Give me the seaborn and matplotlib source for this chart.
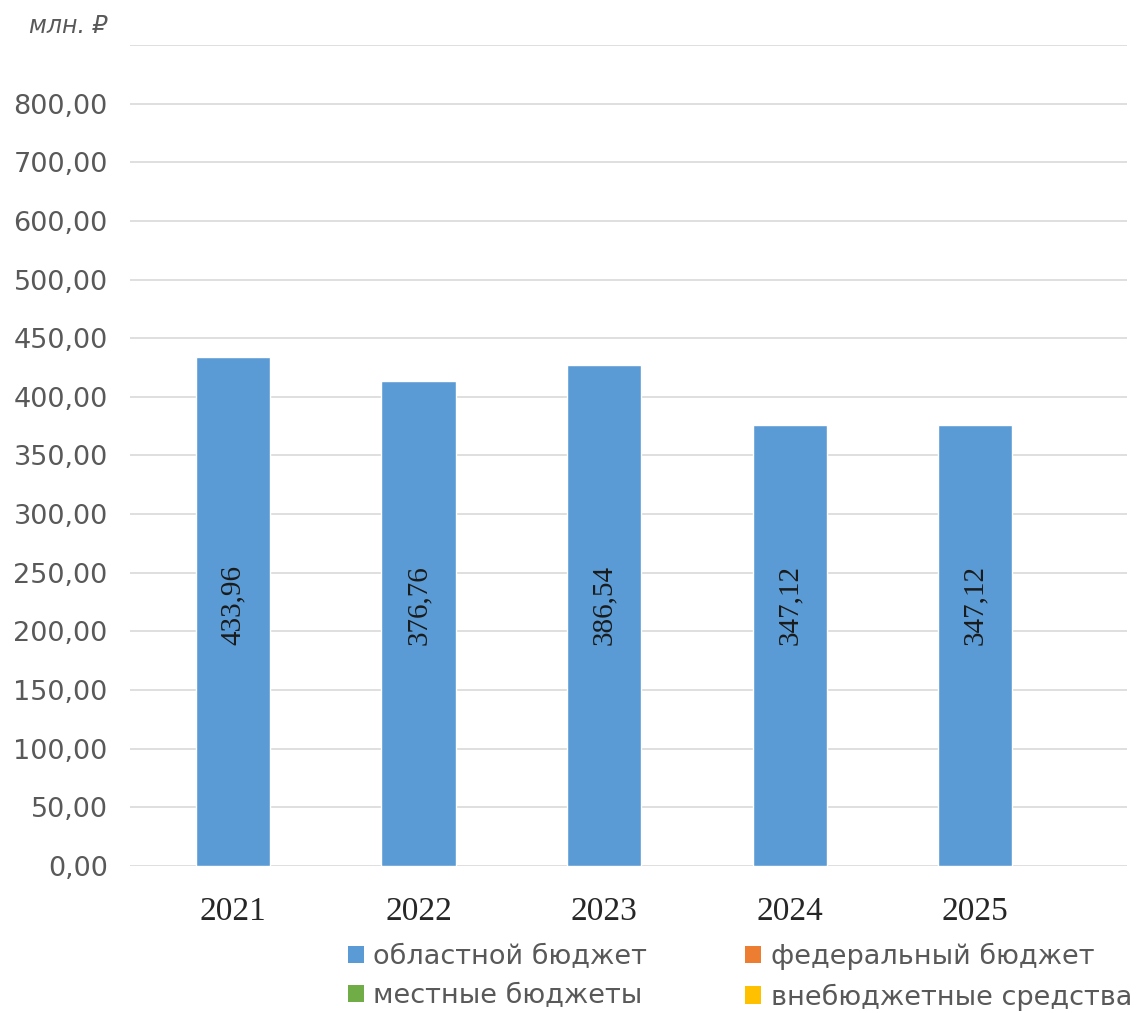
import numpy as np
import pandas as pd
import matplotlib
matplotlib.use("Agg")
import matplotlib.pyplot as plt
import matplotlib.transforms as mtransforms
from matplotlib.patches import Patch
import seaborn as sns

# ---- data ----
years = ["2021", "2022", "2023", "2024", "2025"]
bar_heights = [433.96, 413.5, 427.0, 376.0, 376.0]          # drawn bar heights
bar_labels = ["433,96", "376,76", "386,54", "347,12", "347,12"]  # printed labels
tick_values = [0, 50, 100, 150, 200, 250, 300, 350, 400, 450, 500, 600, 700, 800, 900]
tick_labels = ["0,00", "50,00", "100,00", "150,00", "200,00", "250,00", "300,00",
               "350,00", "400,00", "450,00", "500,00", "600,00", "700,00", "800,00", ""]
unit_label = "млн. ₽"
legend_names = ["областной бюджет", "федеральный бюджет", "местные бюджеты", "внебюджетные средства"]
legend_colors = ["#5B9BD5", "#ED7D31", "#70AD47", "#FFC000"]

sns.set_theme(style="white")
plt.rcParams['font.family'] = ['DejaVu Sans']

fig = plt.figure(figsize=(11.4, 10.13), dpi=100)
ax = fig.add_axes([0.114, 0.1451, 0.989 - 0.114, 0.9556 - 0.1451])

def fwd(v):
    v = np.asarray(v, dtype=float)
    return np.where(v <= 500, v, 500 + (v - 500) / 2.0)

def inv(p):
    p = np.asarray(p, dtype=float)
    return np.where(p <= 500, p, 500 + (p - 500) * 2.0)

df = pd.DataFrame({"year": years, "value": bar_heights})
sns.barplot(data=df, x="year", y="value", color="#5B9BD5", saturation=1, width=0.4, ax=ax, zorder=3)
ax.set_yscale("function", functions=(fwd, inv))
ax.set_ylim(0, 900)
ax.set_xlim(-0.555, 4.82)

ax.set_yticks(tick_values)
ax.set_yticklabels(tick_labels)
for lab in ax.get_yticklabels():
    lab.set_color("#595959")
    lab.set_fontsize(19.5)
ax.tick_params(axis="y", length=0, pad=16)
ax.tick_params(axis="x", length=0, pad=22)
for lab in ax.get_xticklabels():
    lab.set_fontfamily("Liberation Serif")
    lab.set_fontsize(24)
    lab.set_color("#262626")

# unit caption at the top, slightly above the top gridline
ax.annotate(unit_label, xy=(0, 900), xycoords=("axes fraction", "data"),
            xytext=(-16, 14), textcoords="offset points", ha="right", va="center",
            fontsize=17, fontstyle="italic", color="#595959")

ax.yaxis.grid(True, color="#d9d9d9", linewidth=1.2, zorder=0)
ax.xaxis.grid(False)
for s in ax.spines.values():
    s.set_visible(False)
ax.set_xlabel("")
ax.set_ylabel("")

trans = mtransforms.blended_transform_factory(ax.transData, ax.transAxes)
for i, lbl in enumerate(bar_labels):
    ax.text(i, 0.318, lbl, transform=trans, rotation=90, ha="center", va="center",
            fontfamily="Liberation Serif", fontsize=21, color="#1a1a1a", zorder=4)

order = [0, 2, 1, 3]  # column-major fill so rows read: областной/федеральный, местные/внебюджетные
handles = [Patch(facecolor=legend_colors[k], edgecolor="none") for k in order]
names = [legend_names[k] for k in order]
leg = fig.legend(handles, names, ncol=2, loc="center", bbox_to_anchor=(0.649, 0.036),
                 frameon=False, fontsize=19.5, handlelength=0.6, handleheight=0.6,
                 handletextpad=0.35, columnspacing=3.6, labelspacing=0.5)
for t in leg.get_texts():
    t.set_color("#595959")

fig.savefig("out.png", dpi=100)
